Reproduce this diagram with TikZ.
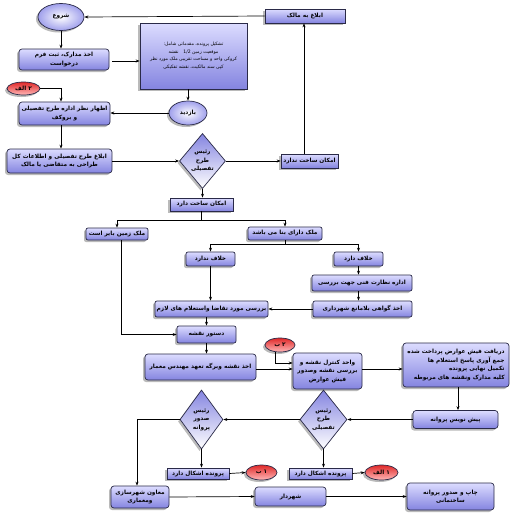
\documentclass[tikz,border=0pt]{standalone}
\usepackage{fontspec}
\newfontfamily\arb[Script=Arabic]{DejaVu Sans}
\TeXXeTstate=1
\usetikzlibrary{shapes.geometric,shadows,calc,arrows.meta}
\newcommand{\fR}[1]{\beginR #1\endR}
\definecolor{bdr}{HTML}{2A2A48}
\definecolor{boxtop}{HTML}{DCDCFF}
\definecolor{boxbot}{HTML}{8484E0}
\definecolor{diatop}{HTML}{8484E0}
\definecolor{ovl}{HTML}{A0A0EC}
\definecolor{redtop}{HTML}{E02828}
\definecolor{redbot}{HTML}{FFB8B8}
\begin{document}
\begin{tikzpicture}[x=1pt,y=-1pt,
 base/.style={draw=bdr, line width=0.7pt, inner sep=0pt, align=center,
   font=\arb\bfseries\fontsize{5.8}{8.5}\selectfont,
   drop shadow={shadow xshift=-2pt,shadow yshift=-2pt,fill=black!45,opacity=0.6}},
 sz/.style 2 args={minimum width=#1, minimum height=#2},
 box/.style={base, rectangle, rounded corners=3pt, top color=boxtop, bottom color=boxbot},
 sbox/.style={base, rectangle, top color=boxtop, bottom color=boxbot},
 oval/.style={base, ellipse, inner color=white, outer color=ovl},
 redoval/.style={base, ellipse, top color=redtop, bottom color=redbot},
 dia/.style={base, diamond, top color=diatop, bottom color=white},
 arr/.style={-{Stealth[length=4pt,width=3pt]}, line width=0.7pt},
 ln/.style={line width=0.7pt}
]
\fill[white] (0,0) rectangle (512,517);
\useasboundingbox (0,0) rectangle (512,517);

% nodes
\node[oval, sz={46}{27}] (start) at (61,17) {\fR{شروع}};
\node[sbox, sz={80}{14}] (owner) at (305,16) {\fR{ابلاغ به مالک}};
\node[box, sz={90}{21}] (docs) at (64,59.5) {\fR{اخذ مدارک، ثبت فرم}\\\fR{درخواست}};
\node[sbox, sz={107}{66}, font=\arb\fontsize{4.6}{7.6}\selectfont] (file) at (193.5,56)
  {\fR{تشکیل پرونده، مقدماتی شامل:}\\
   \fR{موقعیت زمین \beginL 1/2\endL{}\quad نقشه}\\
   \fR{کروکی واحد و مساحت تقریبی ملک مورد نظر}\\
   \fR{کپی سند مالکیت، نقشه تفکیکی}};
\node[oval, sz={38}{24}] (visit) at (188,113) {\fR{بازدید}};
\node[redoval, sz={33}{13}] (a2) at (23.5,88.5) {\fR{۲ الف}};
\node[box, sz={91}{23}] (opin) at (64.5,113.5) {\fR{اظهار نظر اداره طرح تفصیلی}\\\fR{و بروکف}};
\node[box, sz={105}{24}] (notify) at (59.5,161) {\fR{ابلاغ طرح تفصیلی و اطلاعات کل}\\\fR{طراحی به متقاضی یا مالک}};
\node[dia, sz={46}{55}] (d1) at (202.5,161) {\fR{رئیس}\\\fR{طرح}\\\fR{تفصیلی}};
\node[sbox, sz={57}{14}] (no) at (309.5,161) {\fR{امکان ساخت ندارد}};
\node[sbox, sz={63}{13}] (yes) at (201.5,204.5) {\fR{امکان ساخت دارد}};
\node[box, rounded corners=2pt, sz={62}{12}] (bayer) at (117,234) {\fR{ملک زمین بایر است}};
\node[box, rounded corners=2pt, sz={74}{13}] (bana) at (285,233.5) {\fR{ملک دارای بنا می باشد}};
\node[box, rounded corners=2pt, sz={49}{14}] (nokh) at (210.5,259) {\fR{خلاف ندارد}};
\node[box, rounded corners=2pt, sz={49}{14}] (kh) at (358.5,259) {\fR{خلاف دارد}};
\node[box, rounded corners=2pt, sz={100}{16}] (nezarat) at (362,283) {\fR{اداره نظارت فنی جهت بررسی}};
\node[box, rounded corners=2pt, sz={99}{16}] (govahi) at (362.5,309) {\fR{اخذ گواهی بلامانع شهرداری}};
\node[box, rounded corners=2pt, sz={113}{16}] (barresi) at (211.5,309) {\fR{بررسی مورد تقاضا واستعلام های لازم}};
\node[box, rounded corners=2pt, sz={59}{17}] (dastur) at (206.5,334.5) {\fR{دستور نقشه}};
\node[box, sz={111}{26}] (akhz) at (200.5,367) {\fR{اخذ نقشه وبرگه تعهد مهندس معمار}};
\node[redoval, sz={30}{14}] (b2) at (280,345) {\fR{۲ ب}};
\node[box, sz={69}{36}] (control) at (327.5,371) {\fR{واحد کنترل نقشه و}\\\fR{بررسی نقشه وصدور}\\\fR{فیش عوارض}};
\node[box, sz={106}{44}, align=right] (receive) at (456,365)
  {\fR{دریافت فیش عوارض پرداخت شده}\\\fR{جمع آوری پاسخ استعلام ها}\\\fR{تکمیل نهایی پرونده}\\\fR{کلیه مدارک ونقشه های مربوطه}};
\node[box, sz={85}{18}] (draft) at (455.5,419.5) {\fR{پیش نویس پروانه}};
\node[dia, sz={47}{59}] (d2) at (323.5,419.5) {\fR{رئیس}\\\fR{طرح}\\\fR{تفصیلی}};
\node[dia, sz={43}{59}] (d3) at (201.5,419.5) {\fR{رئیس}\\\fR{صدور}\\\fR{پروانه}};
\node[sbox, sz={63}{11}] (prob1) at (320.5,473.5) {\fR{پرونده اشکال دارد}};
\node[redoval, sz={33}{15}] (a1) at (381.5,472.5) {\fR{۱ الف}};
\node[sbox, sz={62}{11}] (prob2) at (198,473.5) {\fR{پرونده اشکال دارد}};
\node[redoval, sz={31}{15}] (b1) at (261.5,472.5) {\fR{۱ ب}};
\node[box, sz={58}{22}] (moaven) at (140,497) {\fR{معاون شهرسازی}\\\fR{ومعماری}};
\node[box, sz={71}{19}] (mayor) at (290.5,496.5) {\fR{شهردار}};
\node[box, sz={87}{27}] (print) at (450.5,496.5) {\fR{چاپ و صدور پروانه}\\\fR{ساختمانی}};

% helper coordinates
\coordinate (cop) at ($(opin.north)+(-3.5,0)$);
\coordinate (cop2) at ($(opin.south)+(-3.5,0)$);
\coordinate (cno) at ($(no.north)+(-5.5,0)$);
\coordinate (s1) at ($(yes.south)+(0,8.5)$);
\coordinate (s2) at ($(bana.south)+(0,4)$);
\coordinate (cbay) at ($(bayer.south)+(4,0)$);
\coordinate (ckh) at ($(kh.south)+(0,0)$);
\coordinate (r1) at ($(akhz.east)+(0,2)$);
\coordinate (cb2) at ($(b2.south)+(-5,0)$);
\coordinate (cctl) at ($(control.west)+(0,-8)$);
\coordinate (cd3) at ($(moaven.north)+(-3,0)$);
\coordinate (dq) at ($(docs.east)+(3,1.5)$);
\coordinate (rq) at ($(receive.south)+(2,0)$);

% connectors
\draw[arr] (owner.west) -- (start.east);
\draw[arr] (start.south) -- (start.south |- docs.north);
\draw[arr] (dq) -- (dq -| file.west);
\draw[arr] (visit.north |- file.south) -- (visit.north);
\draw[arr] (visit.west) -- (visit.west -| opin.east);
\draw[arr] (a2.east) -| (cop);
\draw[arr] (cop2) -- (cop2 |- notify.north);
\draw[arr] (notify.east) -- (d1.west);
\draw[arr] (d1.east) -- (no.west);
\draw[arr] (cno) -- (cno |- owner.south);
\draw[arr] (d1.south) -- (d1.south |- yes.north);
\draw[ln] (yes.south) -- (s1);
\draw[arr] (s1) -| (bayer.north);
\draw[arr] (s1) -| (bana.north);
\draw[ln] (bana.south) -- (s2);
\draw[arr] (s2) -| (nokh.north);
\draw[arr] (s2) -| (kh.north);
\draw[arr] (ckh) -- (ckh |- nezarat.north);
\draw[arr] (ckh |- nezarat.south) -- (ckh |- govahi.north);
\draw[arr] (govahi.west) -- (barresi.east);
\draw[arr] (nokh.south) -- (nokh.south |- barresi.north);
\draw[arr] (dastur.north |- barresi.south) -- (dastur.north);
\draw[arr] (cbay) |- (dastur.west);
\draw[arr] (dastur.south) -- (dastur.south |- akhz.north);
\draw[arr] (r1) -- (r1 -| control.west);
\draw[arr] (cb2) |- (cctl);
\draw[arr] (r1 -| control.east) -- (r1 -| receive.west);
\draw[arr] (rq) -- (rq |- draft.north);
\draw[arr] (draft.west) -- (d2.east);
\draw[arr] (d2.west) -- (d3.east);
\draw[arr] (d2.south) -- (d2.south |- prob1.north);
\draw[arr] (prob1.east) -- (a1.west);
\draw[arr] (d3.south) -- (d3.south |- prob2.north);
\draw[arr] (prob2.east) -- (b1.west);
\draw[arr] (d3.west) -| (cd3);
\draw[arr] (moaven.east) -- (mayor.west);
\draw[arr] (mayor.east) -- (print.west);
\end{tikzpicture}
\end{document}
